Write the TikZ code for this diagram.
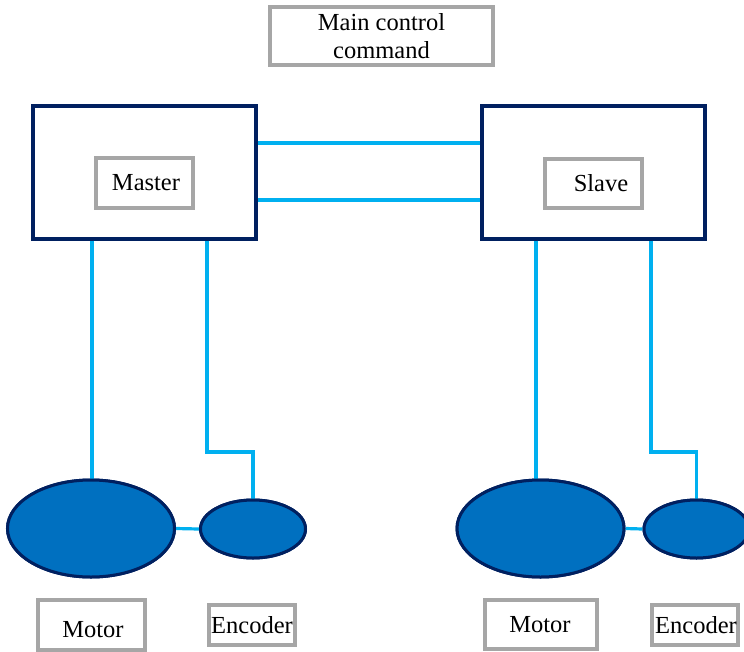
\documentclass[tikz,border=0pt]{standalone}
\usepackage{fontspec}
\setmainfont{Liberation Serif}
\usetikzlibrary{shapes.geometric}
\definecolor{navy}{RGB}{0,32,96}
\definecolor{mblue}{RGB}{0,112,192}
\definecolor{lblue}{RGB}{0,176,240}
\definecolor{gbord}{RGB}{166,166,166}
\begin{document}
\begin{tikzpicture}[x=1pt,y=-1pt,
  font=\fontsize{24.5}{28}\selectfont,
  ctrlbox/.style={draw=navy,line width=3.2pt,fill=white,rectangle,inner sep=0pt},
  labelbox/.style={draw=gbord,line width=3.2pt,fill=white,rectangle,inner sep=0pt},
  txt/.style={inner sep=0pt,anchor=center},
  link/.style={draw=lblue,line width=3.2pt},
  motorell/.style={ellipse,draw=navy,fill=mblue,line width=3pt,inner sep=0pt}]
\useasboundingbox (0,0) rectangle (744,651);
\clip (0,0) rectangle (744,651);
% top command box
\node[labelbox,minimum width=223pt,minimum height=58pt,align=center] (cmd) at (381.5,36) {Main control\\command};
% controller boxes
\node[ctrlbox,minimum width=223pt,minimum height=133pt] (master) at (144.5,172.5) {};
\node[ctrlbox,minimum width=223pt,minimum height=133pt] (slave) at (593.5,172.5) {};
\node[labelbox,minimum width=97pt,minimum height=50pt] (mlab) at (144.5,183) {};
\node[txt] (mtxt) at (146,183) {Master};
\node[labelbox,minimum width=97pt,minimum height=49pt] (slab) at (593.5,183.5) {};
\node[txt] (stxt) at (601,183) {Slave};
% motors and encoders
\node[motorell,minimum width=167pt,minimum height=97pt] (mot1) at (91,528.5) {};
\node[motorell,minimum width=105pt,minimum height=58pt] (enc1) at (253,529) {};
\node[motorell,minimum width=167pt,minimum height=97pt] (mot2) at (540.5,528.5) {};
\node[motorell,minimum width=105pt,minimum height=58pt] (enc2) at (696.5,529) {};
% connectors
\draw[link] ([yshift=29.5pt]master.east) -- ([yshift=29.5pt]slave.west);
\draw[link] ([yshift=-27.5pt]master.east) -- ([yshift=-27.5pt]slave.west);
\draw[link] ([xshift=-52.5pt]master.south) -- ([xshift=-52.5pt]master.south |- mot1.north);
\coordinate (b1) at (207,452);
\draw[link] ([xshift=62.5pt]master.south) -- (b1) -| (enc1.north);
\draw[link] ([xshift=-57.5pt]slave.south) -- ([xshift=-57.5pt]slave.south |- mot2.north);
\coordinate (b2) at (651,452);
\draw[link] ([xshift=57.5pt]slave.south) -- (b2) -| (enc2.north);
\draw[link] (mot1.east) -- (enc1.west);
\draw[link] (mot2.east) -- (enc2.west);
% redraw ellipses on top of line ends
\node[motorell,minimum width=167pt,minimum height=97pt] at (mot1) {};
\node[motorell,minimum width=105pt,minimum height=58pt] at (enc1) {};
\node[motorell,minimum width=167pt,minimum height=97pt] at (mot2) {};
\node[motorell,minimum width=105pt,minimum height=58pt] at (enc2) {};
% labels
\node[labelbox,minimum width=107pt,minimum height=50pt] (mot1lab) at (91.5,625) {};
\node[txt] (mot1txt) at (93,630) {Motor};
\node[labelbox,minimum width=86pt,minimum height=40pt] (enc1lab) at (252,625) {};
\node[txt] (enc1txt) at (252,625) {Encoder};
\node[labelbox,minimum width=112pt,minimum height=49pt] (mot2lab) at (541,624.5) {};
\node[txt] (mot2txt) at (540,625) {Motor};
\node[labelbox,minimum width=86pt,minimum height=40pt] (enc2lab) at (695,625) {};
\node[txt] (enc2txt) at (696,625) {Encoder};
\end{tikzpicture}
\end{document}
